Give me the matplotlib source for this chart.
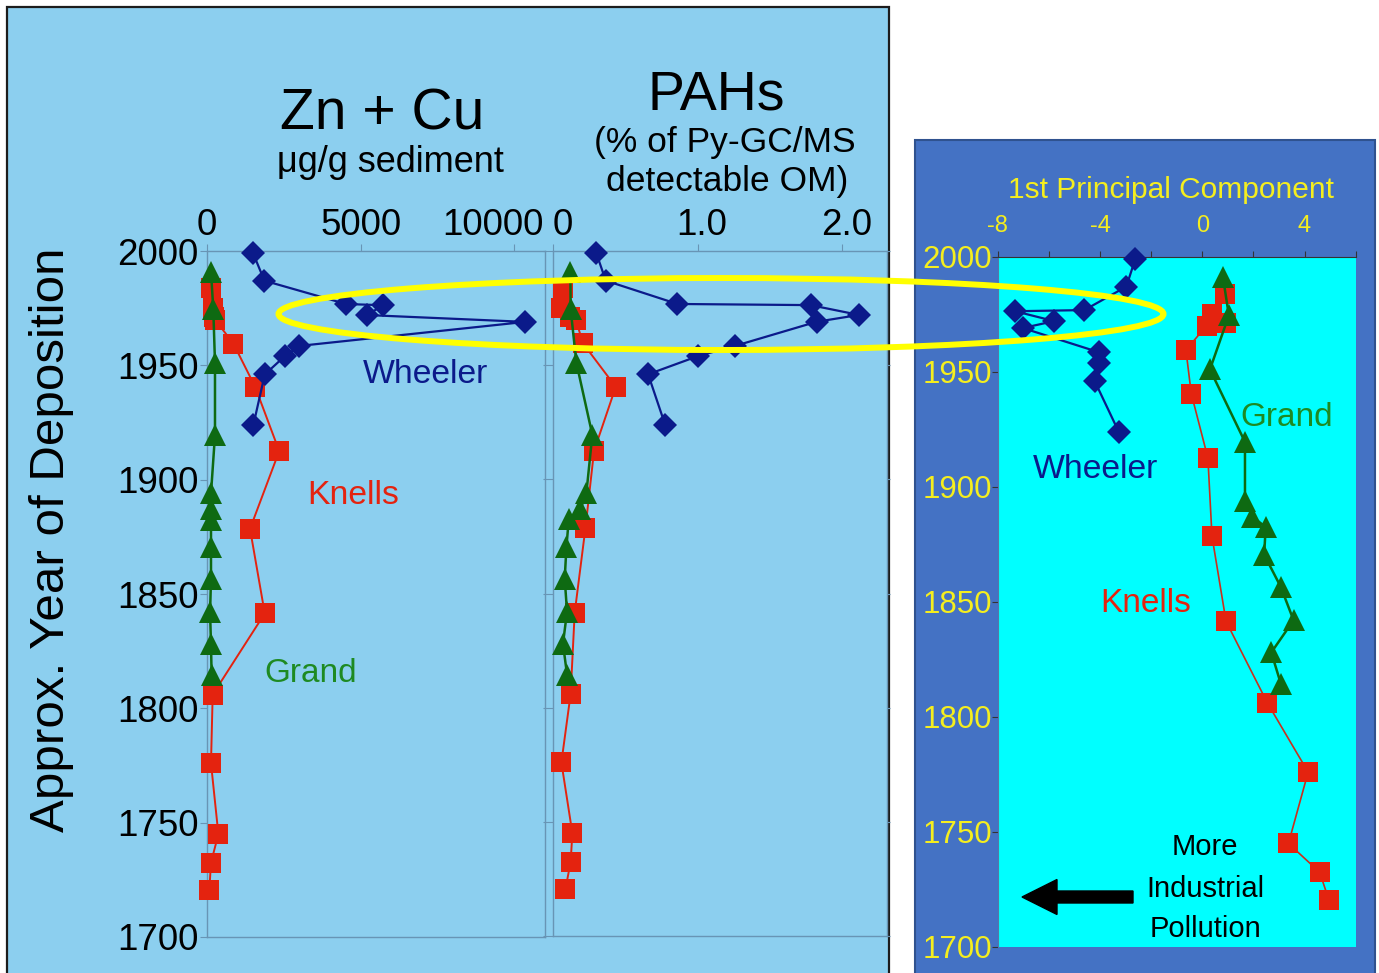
import matplotlib
matplotlib.use('Agg')
import matplotlib.pyplot as plt
from matplotlib.patches import Rectangle, Ellipse, FancyArrow
from matplotlib.transforms import ScaledTranslation, IdentityTransform

plt.rcParams['font.family'] = ['Liberation Sans', 'DejaVu Sans']

# ---------------- data ----------------
years_wheeler = [1999, 1987, 1976.8, 1976.3, 1972, 1969, 1958.5, 1954, 1946, 1924]
zncu_wheeler = [1500, 1870, 4530, 5740, 5200, 10360, 3010, 2530, 1880, 1510]
pah_wheeler = [0.30, 0.365, 0.861, 1.781, 2.116, 1.823, 1.262, 1.004, 0.658, 0.775]
pc1_wheeler = [-2.62, -2.97, -4.61, -7.32, -5.79, -7.02, -4.05, -4.05, -4.21, -3.27]

years_knells = [1984, 1975, 1971, 1970, 1959.5, 1940.5, 1912.5, 1878.5, 1841.5,
                1806, 1776, 1745, 1732.5, 1720.5]
zncu_knells = [130, 200, 230, 260, 860, 1570, 2350, 1400, 1880, 185, 130, 370, 130, 75]
pah_knells = [0.069, 0.058, 0.12, 0.157, 0.208, 0.434, 0.284, 0.224, 0.150,
              0.122, 0.058, 0.134, 0.122, 0.086]
pc1_knells = [0.87, 0.39, 0.93, 0.17, -0.64, -0.43, 0.22, 0.38, 0.93,
              2.55, 4.14, 3.37, 4.59, 4.95]

years_grand = [1991, 1974.5, 1951, 1919.5, 1894, 1887, 1882.5, 1870.5, 1856.5,
               1842, 1828, 1814.5]
zncu_grand = [130, 205, 260, 260, 130, 130, 130, 130, 130, 100, 130, 150]
pah_grand = [0.120, 0.122, 0.162, 0.272, 0.231, 0.190, 0.109, 0.093, 0.081,
             0.097, 0.069, 0.097]
pc1_grand = [0.81, 1.04, 0.30, 1.67, 1.67, 1.96, 2.48, 2.42, 3.07, 3.57, 2.70, 3.07]

year_ticks = [1700, 1750, 1800, 1850, 1900, 1950, 2000]
zncu_ticks = [0, 5000, 10000]
zncu_ticklabels = ['0', '5000', '10000']
pah_ticks = [0, 1.0, 2.0]
pah_ticklabels = ['0', '1.0', '2.0']
pc1_ticks = [-8, -6, -4, -2, 0, 2, 4, 6]
pc1_ticklabels = ['-8', '', '-4', '', '0', '', '4', '']

# ---------------- styles ----------------
W, H = 1379, 973
LIGHT = '#8CCFEF'
SPINE = '#6895B5'
NAVY = '#0B1A8A'
RED = '#E4230F'
GREEN = '#0E6A12'
GREEN_TXT = '#1E8A22'
YELLOW = '#F5EE1E'

fig = plt.figure(figsize=(W / 100, H / 100), dpi=100)
fig.patch.set_facecolor('white')


def fx(px):
    return px / W


def fy(py):
    return 1 - py / H


def add_axes_px(x0, x1, ytop, ybot):
    return fig.add_axes([fx(x0), fy(ybot), (x1 - x0) / W, (ybot - ytop) / H])


def shift_labels(labels, dxs):
    for lab, dx in zip(labels, dxs):
        lab.set_transform(lab.get_transform() +
                          ScaledTranslation(dx / 100, 0, fig.dpi_scale_trans))


# backgrounds
fig.add_artist(Rectangle((fx(7), fy(990)), (889 - 7) / W, (990 - 7) / H,
                         transform=fig.transFigure, facecolor=LIGHT,
                         edgecolor='#1c1c1c', lw=1.6, zorder=-5))
fig.add_artist(Rectangle((fx(915), fy(990)), (1375 - 915) / W, (990 - 140) / H,
                         transform=fig.transFigure, facecolor='#4472C4',
                         edgecolor='#2F528F', lw=1.5, zorder=-5))

ms_d, ms_s, ms_t = 12.0, 14.2, 15.5


def plot_series(ax, kn_x, gr_x, wh_x, red_lw=1.4, red_line=RED):
    ax.plot(kn_x, years_knells, color=red_line, lw=red_lw, zorder=3, clip_on=False)
    ax.plot(kn_x, years_knells, ls='none', marker='s', ms=ms_s, color=RED,
            mec=RED, mew=0, zorder=3, clip_on=False)
    ax.plot(gr_x, years_grand, color=GREEN, lw=1.8, marker='^', ms=ms_t,
            mec=GREEN, mew=0, zorder=4, clip_on=False)
    ax.plot(wh_x, years_wheeler, color=NAVY, lw=1.6, marker='D', ms=ms_d,
            mec=NAVY, mew=0, zorder=5, clip_on=False)


# ---------------- left panel: Zn + Cu ----------------
ax1 = add_axes_px(207, 545, 251, 937)
ax1.set_facecolor(LIGHT)
plot_series(ax1, zncu_knells, zncu_grand, zncu_wheeler)
ax1.set_xlim(0, 11000)
ax1.set_ylim(1700, 2000)
ax1.xaxis.tick_top()
ax1.set_xticks(zncu_ticks)
ax1.set_xticklabels(zncu_ticklabels)
ax1.set_yticks(year_ticks)
ax1.tick_params(axis='x', labelsize=26.5, length=5, pad=1, color=SPINE, direction='out')
ax1.tick_params(axis='y', labelsize=26.5, length=5, pad=1, color=SPINE, direction='out')
for s in ax1.spines.values():
    s.set_color(SPINE)
    s.set_linewidth(1)
shift_labels(ax1.get_xticklabels(), [0, 0, -21])

# ---------------- middle panel: PAHs ----------------
ax2 = add_axes_px(553, 887, 251, 936)
ax2.set_facecolor(LIGHT)
plot_series(ax2, pah_knells, pah_grand, pah_wheeler)
ax2.set_xlim(0, 2.31)
ax2.set_ylim(1700, 2000)
ax2.xaxis.tick_top()
ax2.set_xticks(pah_ticks)
ax2.set_xticklabels(pah_ticklabels)
ax2.set_yticks(year_ticks)
ax2.yaxis.set_ticks_position('both')
ax2.tick_params(axis='x', labelsize=26.5, length=5, pad=1, color=SPINE, direction='out')
ax2.tick_params(axis='y', labelleft=False, labelright=False, length=7,
                color=SPINE, direction='out')
for t in ax2.yaxis.get_major_ticks():
    t.tick2line.set_markersize(2)
for s in ax2.spines.values():
    s.set_color(SPINE)
    s.set_linewidth(1)
shift_labels(ax2.get_xticklabels(), [10, 4, 4])

# ---------------- right panel: PC1 ----------------
ax3 = add_axes_px(997.7, 1355.7, 256.7, 947)
ax3.set_facecolor('#00FFFF')
plot_series(ax3, pc1_knells, pc1_grand, pc1_wheeler, red_lw=1.2, red_line='#C8301E')
ax3.set_xlim(-8, 6)
ax3.set_ylim(1700, 2000)
ax3.xaxis.tick_top()
ax3.set_xticks(pc1_ticks)
ax3.set_xticklabels(pc1_ticklabels)
ax3.set_yticks(year_ticks)
ax3.tick_params(axis='x', labelsize=17, length=4, pad=10, color='#333333',
                labelcolor=YELLOW, direction='out')
ax3.tick_params(axis='y', labelsize=22.5, length=4, pad=0, color='#333333',
                labelcolor=YELLOW, direction='out')
ax3.spines['top'].set_color('#333333')
ax3.spines['left'].set_color('#5577AA')
ax3.spines['right'].set_visible(False)
ax3.spines['bottom'].set_visible(False)

# ---------------- texts ----------------
def ftext(px, py, s, **kw):
    fig.text(fx(px), fy(py), s, **kw)


ftext(382, 130, 'Zn + Cu', fontsize=41, ha='center', va='baseline')
ftext(390, 172, 'μg/g sediment', fontsize=26, ha='center', va='baseline')
ftext(716, 110, 'PAHs', fontsize=40, ha='center', va='baseline')
ftext(725, 152, '(% of Py-GC/MS', fontsize=25.5, ha='center', va='baseline')
ftext(727, 191, 'detectable OM)', fontsize=25.5, ha='center', va='baseline')
ftext(52, 540, 'Approx. Year of Deposition', fontsize=35.5, rotation=90,
      ha='center', va='center')

ftext(425, 383, 'Wheeler', fontsize=24.3, color=NAVY, ha='center', va='baseline')
ftext(353, 504, 'Knells', fontsize=24.3, color=RED, ha='center', va='baseline')
ftext(311, 682, 'Grand', fontsize=24, color=GREEN_TXT, ha='center', va='baseline')

ftext(1095, 478, 'Wheeler', fontsize=24.3, color=NAVY, ha='center', va='baseline')
ftext(1287, 426, 'Grand', fontsize=24, color=GREEN_TXT, ha='center', va='baseline')
ftext(1146, 612, 'Knells', fontsize=24, color=RED, ha='center', va='baseline')

ftext(1171, 198, '1st Principal Component', fontsize=21.5, color=YELLOW,
      ha='center', va='baseline')

ftext(1205, 855, 'More', fontsize=21, ha='center', va='baseline')
ftext(1205, 897, 'Industrial', fontsize=21, ha='center', va='baseline')
ftext(1205, 937, 'Pollution', fontsize=21, ha='center', va='baseline')

fig.add_artist(FancyArrow(1133, H - 897, -111, 0, width=12, head_width=35,
                          head_length=35, length_includes_head=True,
                          transform=IdentityTransform(), color='black', zorder=20))

fig.add_artist(Ellipse((fx(721), fy(314)), 885 / W, 72 / H,
                       transform=fig.transFigure, fill=False,
                       edgecolor='#FFFF00', lw=4.3, zorder=30))

fig.savefig('out.png', dpi=100, facecolor=fig.get_facecolor())
